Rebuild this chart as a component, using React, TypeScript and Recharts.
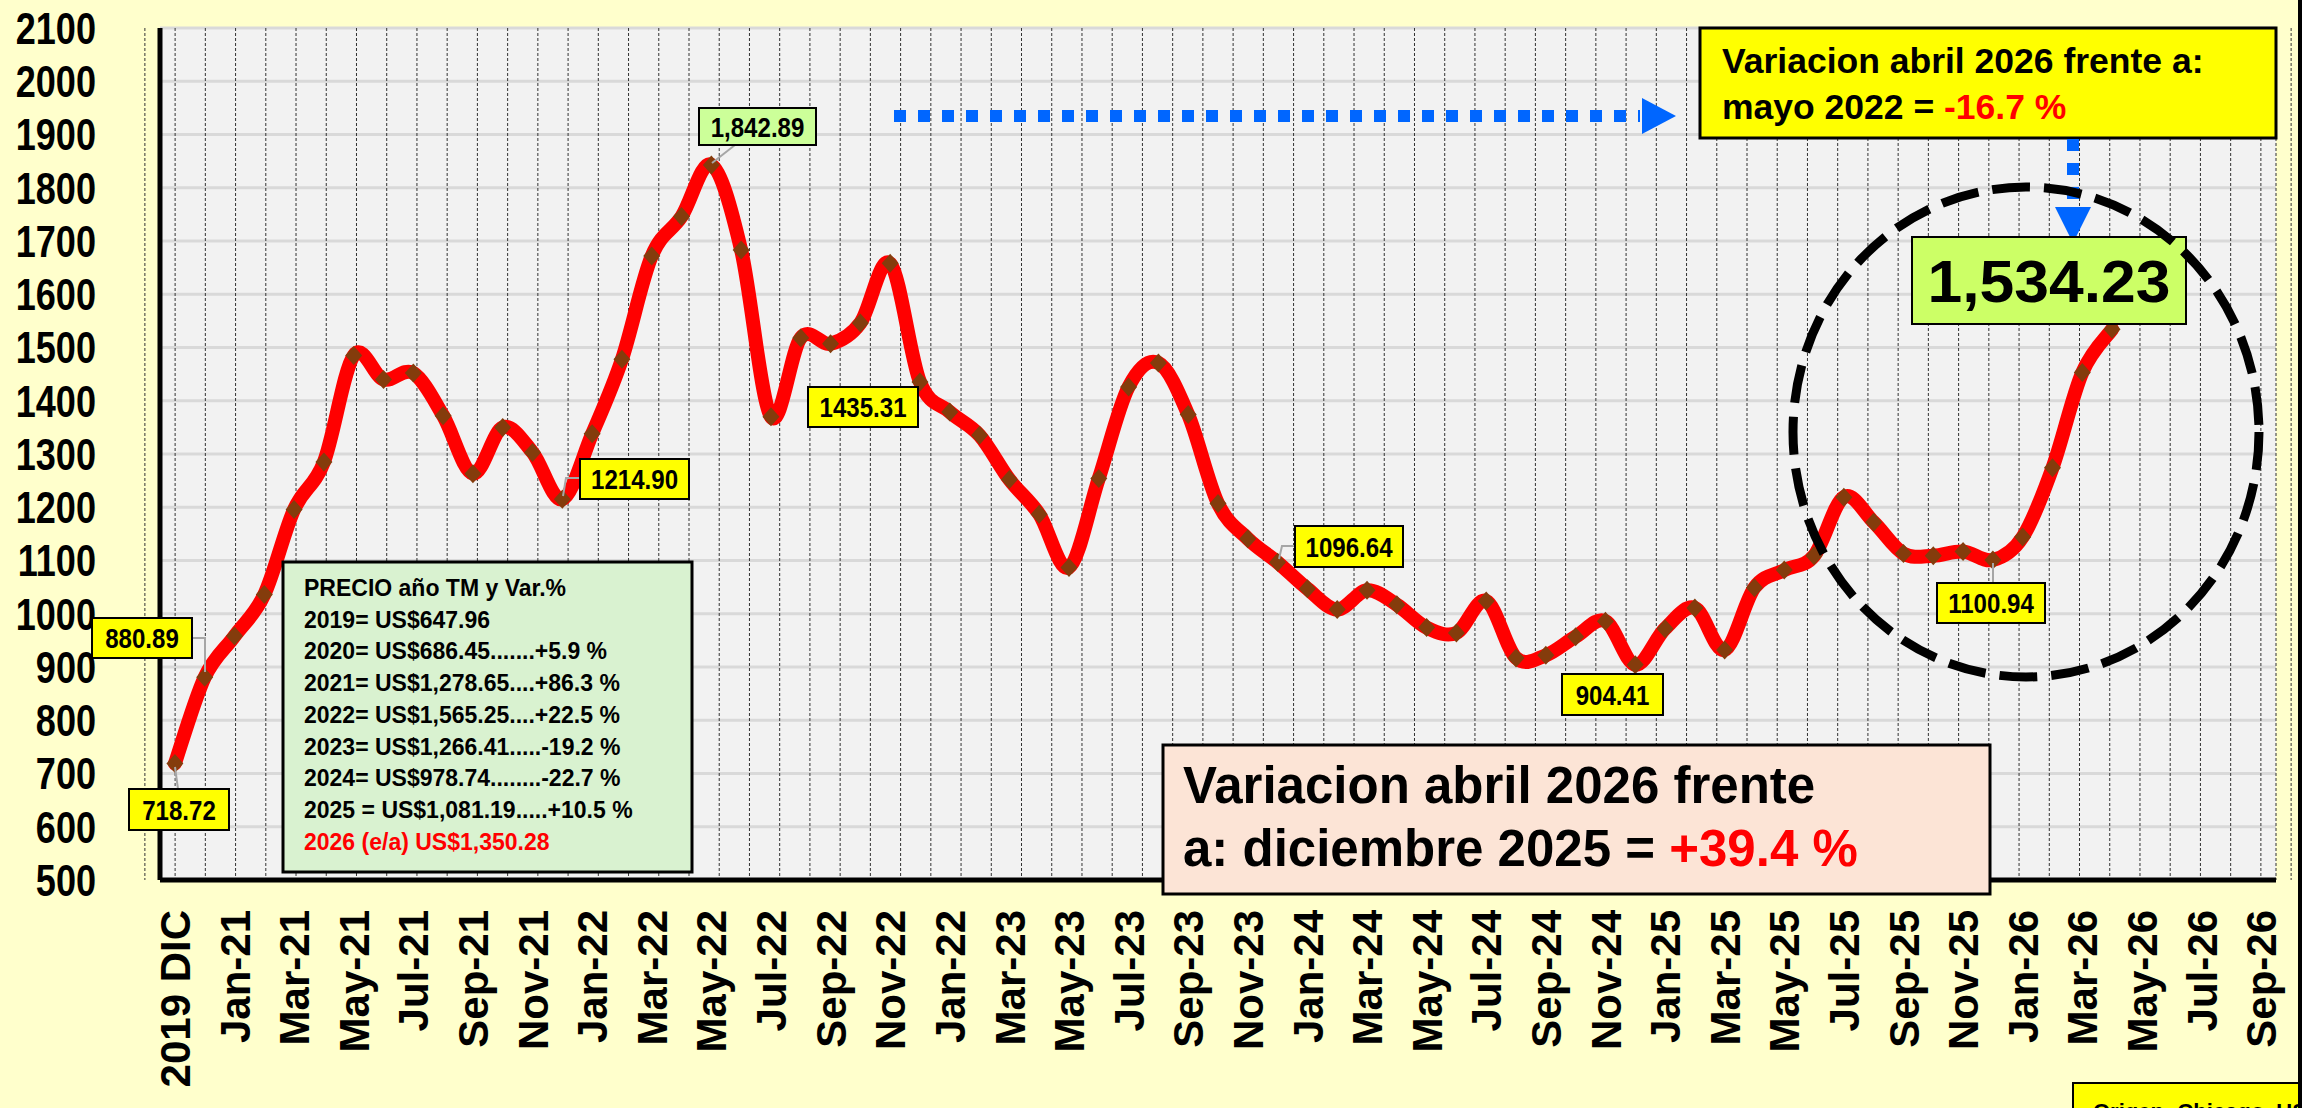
import * as React from "react";
import { LineChart, Line, XAxis, YAxis, CartesianGrid } from "recharts";

// monthly categories, index 1 is the Dec-2020 point (its label is hidden)
const categories = [
  "2019 DIC", "2020 DIC", "Jan-21", "Feb-21", "Mar-21", "Apr-21", "May-21", "Jun-21", "Jul-21", "Aug-21",
  "Sep-21", "Oct-21", "Nov-21", "Dec-21", "Jan-22", "Feb-22", "Mar-22", "Apr-22", "May-22", "Jun-22",
  "Jul-22", "Aug-22", "Sep-22", "Oct-22", "Nov-22", "Dec-22", "Jan-22", "Feb-23", "Mar-23", "Apr-23",
  "May-23", "Jun-23", "Jul-23", "Aug-23", "Sep-23", "Oct-23", "Nov-23", "Dec-23", "Jan-24", "Feb-24",
  "Mar-24", "Apr-24", "May-24", "Jun-24", "Jul-24", "Aug-24", "Sep-24", "Oct-24", "Nov-24", "Dec-24",
  "Jan-25", "Feb-25", "Mar-25", "Apr-25", "May-25", "Jun-25", "Jul-25", "Aug-25", "Sep-25", "Oct-25",
  "Nov-25", "Dec-25", "Jan-26", "Feb-26", "Mar-26", "Apr-26", "May-26", "Jun-26", "Jul-26", "Aug-26",
  "Sep-26",
];

// US$ / TM
const prices = [
  718.72, 880.89, 958, 1036, 1196, 1285, 1485, 1440, 1452, 1372,
  1263, 1350, 1303, 1214.9, 1338, 1478, 1672, 1746, 1842.89, 1683,
  1370, 1518, 1507, 1546, 1658, 1435.31, 1379, 1335, 1252, 1187,
  1087, 1254, 1426, 1471, 1374, 1207, 1141, 1096.64, 1047, 1008,
  1044, 1017, 974, 964, 1024, 917, 922, 957, 986, 904.41,
  972, 1011, 932, 1049, 1082, 1109, 1219, 1172, 1113, 1109,
  1117, 1100.94, 1144, 1274, 1453, 1534.23,
];

const labelledTicks = [0, 2, 4, 6, 8, 10, 12, 14, 16, 18, 20, 22, 24, 26, 28, 30, 32, 34, 36, 38, 40, 42, 44, 46, 48, 50, 52, 54, 56, 58, 60, 62, 64, 66, 68, 70];
const yTicks = [500, 600, 700, 800, 900, 1000, 1100, 1200, 1300, 1400, 1500, 1600, 1700, 1800, 1900, 2000, 2100];

const summaryLines = [
  "PRECIO año TM y Var.%",
  "2019= US$647.96",
  "2020= US$686.45.......+5.9 %",
  "2021= US$1,278.65....+86.3 %",
  "2022= US$1,565.25....+22.5 %",
  "2023= US$1,266.41.....-19.2 %",
  "2024= US$978.74........-22.7 %",
  "2025 = US$1,081.19.....+10.5 %",
];
const summaryEstimate = "2026 (e/a) US$1,350.28";

const rows = categories.map((c, i) => ({ idx: i, label: c, price: prices[i] ?? null }));
const gridBounds = categories.map((_, i) => i - 0.5).concat([categories.length - 0.5]);

const W = 2318;
const H = 1108;
const FONT = "'Liberation Sans', Arial, sans-serif";

// Catmull-Rom style smoothing, close to Excel's "smoothed line"
function smoothCurve(context: any) {
  let pts: number[][] = [];
  return {
    areaStart() {},
    areaEnd() {},
    lineStart() {
      pts = [];
    },
    point(x: number, y: number) {
      pts.push([+x, +y]);
    },
    lineEnd() {
      const n = pts.length;
      if (!n) return;
      context.moveTo(pts[0][0], pts[0][1]);
      for (let i = 0; i < n - 1; i++) {
        const p0 = pts[i - 1] || pts[i];
        const p1 = pts[i];
        const p2 = pts[i + 1];
        const p3 = pts[i + 2] || p2;
        context.bezierCurveTo(
          p1[0] + (p2[0] - p0[0]) / 6,
          p1[1] + (p2[1] - p0[1]) / 6,
          p2[0] - (p3[0] - p1[0]) / 6,
          p2[1] - (p3[1] - p1[1]) / 6,
          p2[0],
          p2[1]
        );
      }
    },
  };
}

function Diamond(props: any) {
  const { cx, cy, index } = props;
  if (cx == null || cy == null) return <g key={`d-${index}`} />;
  const w = 8.5;
  const h = 9.5;
  return (
    <path
      key={`d-${index}`}
      d={`M${cx},${cy - h}L${cx + w},${cy}L${cx},${cy + h}L${cx - w},${cy}Z`}
      fill="#843c0c"
    />
  );
}

function XTick(props: any) {
  const { x, y, payload } = props;
  return (
    <text
      transform={`translate(${x},${y + 30}) rotate(-90)`}
      textAnchor="end"
      dy="0.36em"
      fontFamily={FONT}
      fontWeight="bold"
      fontSize={42}
      fill="#000"
    >
      {categories[payload.value]}
    </text>
  );
}

// narrow-looking bold numbers on the value axis
function YTick(props: any) {
  const { x, y, payload } = props;
  return (
    <text
      transform={`translate(${x - 64},${y}) scale(0.82,1)`}
      dy="0.36em"
      textAnchor="end"
      fontFamily={FONT}
      fontWeight="bold"
      fontSize={44}
      fill="#000"
    >
      {payload.value}
    </text>
  );
}

function ValueBox({ x, y, w, h, text, fill = "#ffff00", size = 28, sx = 0.86 }: any) {
  return (
    <g>
      <rect x={x} y={y} width={w} height={h} fill={fill} stroke="#000" strokeWidth={2} />
      <text
        transform={`translate(${x + w / 2},${y + h / 2}) scale(${sx},1)`}
        dy="0.36em"
        textAnchor="middle"
        fontFamily={FONT}
        fontWeight="bold"
        fontSize={size}
        fill="#000"
      >
        {text}
      </text>
    </g>
  );
}

function Overlay() {
  const lead = { stroke: "#a6a6a6", strokeWidth: 2, fill: "none" };
  return (
    <svg width={W} height={H} style={{ position: "absolute", left: 0, top: 0 }}>
      {/* leader lines */}
      <polyline points="712,163 735,145" {...lead} />
      <polyline points="563,496 566,478 580,478" {...lead} />
      <polyline points="192,638 205,638 205,672" {...lead} />
      <polyline points="175,767 178,789" {...lead} />
      <polyline points="1279,559 1282,546 1295,546" {...lead} />
      <polyline points="1993,563 1993,583" {...lead} />

      <ValueBox x={699} y={108} w={117} h={37} text="1,842.89" fill="#ccff99" />
      <ValueBox x={808} y={387} w={110} h={40} text="1435.31" />
      <ValueBox x={580} y={459} w={109} h={40} text="1214.90" />
      <ValueBox x={92} y={618} w={100} h={40} text="880.89" />
      <ValueBox x={129} y={789} w={100} h={41} text="718.72" />
      <ValueBox x={1295} y={526} w={108} h={41} text="1096.64" />
      <ValueBox x={1562} y={674} w={101} h={41} text="904.41" />
      <ValueBox x={1937} y={583} w={108} h={40} text="1100.94" />

      {/* summary table */}
      <rect x={283} y={562} width={409} height={310} fill="#d9f2d0" stroke="#000" strokeWidth={3} />
      {summaryLines.map((t, i) => (
        <text key={t} x={304} y={596 + i * 31.7} fontFamily={FONT} fontWeight="bold" fontSize={23} fill="#000">
          {t}
        </text>
      ))}
      <text x={304} y={596 + 8 * 31.7} fontFamily={FONT} fontWeight="bold" fontSize={23} fill="#ff0000">
        {summaryEstimate}
      </text>

      {/* bottom variation box */}
      <rect x={1163} y={745} width={827} height={149} fill="#fce4d6" stroke="#000" strokeWidth={3} />
      <text x={1183} y={803} fontFamily={FONT} fontWeight="bold" fontSize={51} fill="#000">
        Variacion abril 2026 frente
      </text>
      <text x={1183} y={866} fontFamily={FONT} fontWeight="bold" fontSize={51} fill="#000">
        a: diciembre 2025 = <tspan fill="#ff0000">+39.4 %</tspan>
      </text>

      {/* top variation box */}
      <rect x={1700} y={28} width={576} height={110} fill="#ffff00" stroke="#000" strokeWidth={3} />
      <text x={1722} y={73} fontFamily={FONT} fontWeight="bold" fontSize={35.5} fill="#000">
        Variacion abril 2026 frente a:
      </text>
      <text x={1722} y={119} fontFamily={FONT} fontWeight="bold" fontSize={35.5} fill="#000">
        mayo 2022 = <tspan fill="#ff0000">-16.7 %</tspan>
      </text>

      {/* blue dotted arrows */}
      <line x1={894} y1={116} x2={1640} y2={116} stroke="#0066ff" strokeWidth={12} strokeDasharray="12 12" />
      <polygon points="1642,98 1676,116 1642,134" fill="#0066ff" />
      <line x1={2073} y1={139} x2={2073} y2={206} stroke="#0066ff" strokeWidth={12} strokeDasharray="12 12" />
      <polygon points="2055,207 2091,207 2073,243" fill="#0066ff" />

      {/* latest value */}
      <ValueBox x={1912} y={237} w={274} h={87} text="1,534.23" fill="#ccff66" size={60} sx={1.04} />

      <ellipse cx={2026} cy={432} rx={233} ry={245} fill="none" stroke="#000" strokeWidth={9} strokeDasharray="38 14" />

      {/* source box, cut by the frame */}
      <rect x={2073} y={1083} width={229} height={40} fill="#ffff00" stroke="#000" strokeWidth={2} />
      <text x={2093} y={1119} fontFamily={FONT} fontWeight="bold" fontSize={22} fill="#000">
        Origen: Chicago, USA
      </text>

      <rect x={2302} y={0} width={16} height={H} fill="#ffffff" />
      <rect x={2298} y={0} width={4} height={H} fill="#000" />
    </svg>
  );
}

export default function App() {
  return (
    <div style={{ position: "absolute", left: 0, top: 0, width: W, height: H, overflow: "hidden", background: "#ffffcc" }}>
      <LineChart width={W} height={H} data={rows} margin={{ top: 28, right: 42, bottom: 0, left: 0 }}>
        <CartesianGrid vertical={false} stroke="#d9d9d9" strokeWidth={3} fill="#f2f2f2" />
        <CartesianGrid horizontal={false} xAxisId="grid" stroke="#333" strokeWidth={1} strokeDasharray="3 2" />
        <XAxis
          dataKey="idx"
          type="number"
          domain={[-0.5, categories.length - 0.5]}
          ticks={labelledTicks}
          interval={0}
          height={228}
          tickSize={0}
          tickMargin={0}
          tickLine={false}
          axisLine={{ stroke: "#000", strokeWidth: 5 }}
          tick={<XTick />}
        />
        <XAxis xAxisId="grid" type="number" domain={[-0.5, categories.length - 0.5]} ticks={gridBounds} interval={0} hide />
        <YAxis
          domain={[500, 2100]}
          ticks={yTicks}
          interval={0}
          width={160}
          tickSize={0}
          tickMargin={0}
          tickLine={false}
          axisLine={{ stroke: "#000", strokeWidth: 5 }}
          tick={<YTick />}
        />
        <Line
          dataKey="price"
          type={smoothCurve as any}
          stroke="#ff0000"
          strokeWidth={14}
          strokeLinejoin="round"
          strokeLinecap="round"
          dot={Diamond}
          activeDot={false}
          isAnimationActive={false}
        />
      </LineChart>
      <Overlay />
    </div>
  );
}
